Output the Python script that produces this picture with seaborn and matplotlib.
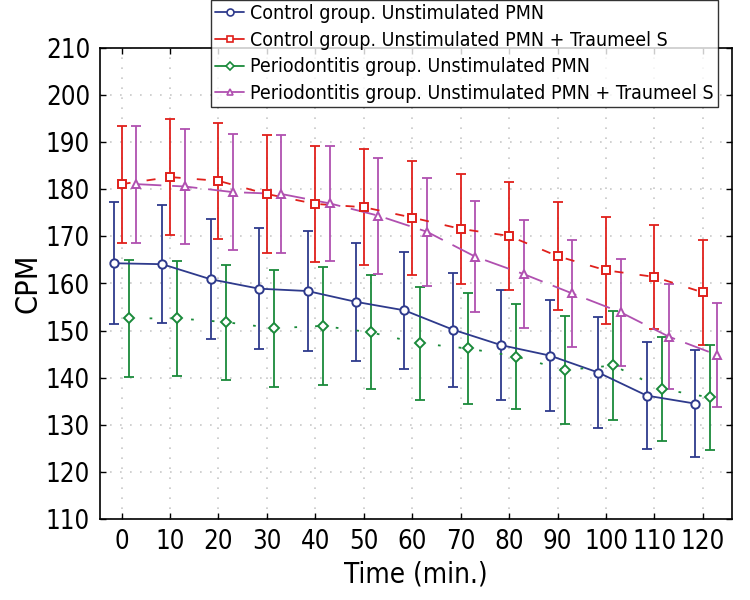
import numpy as np
import pandas as pd
import matplotlib
matplotlib.use("Agg")
import matplotlib.pyplot as plt
import seaborn as sns

# time points (min.)
time = [0, 10, 20, 30, 40, 50, 60, 70, 80, 90, 100, 110, 120]

# mean CPM
ctrl = [164.3, 164.1, 160.9, 158.9, 158.4, 156.1, 154.3, 150.2, 146.9, 144.7, 141.1, 136.2, 134.5]
ctrl_tr = [181.1, 182.6, 181.8, 179.0, 176.9, 176.2, 174.0, 171.6, 170.1, 165.8, 162.8, 161.4, 158.1]
perio = [152.6, 152.6, 151.8, 150.5, 151.0, 149.6, 147.3, 146.2, 144.5, 141.6, 142.6, 137.6, 135.8]
perio_tr = [181.1, 180.6, 179.4, 179.0, 177.0, 174.4, 171.0, 165.7, 162.0, 157.9, 153.9, 148.7, 144.8]

# error bar half-lengths
ctrl_err = [12.9, 12.5, 12.7, 12.9, 12.8, 12.6, 12.4, 12.1, 11.7, 11.7, 11.8, 11.4, 11.3]
ctrl_tr_err = [12.4, 12.3, 12.3, 12.5, 12.3, 12.3, 12.1, 11.7, 11.4, 11.4, 11.4, 11.0, 11.1]
perio_err = [12.4, 12.2, 12.2, 12.4, 12.5, 12.1, 12.0, 11.8, 11.2, 11.4, 11.5, 11.0, 11.1]
perio_tr_err = [12.4, 12.3, 12.3, 12.5, 12.2, 12.3, 11.5, 11.8, 11.4, 11.4, 11.4, 11.1, 11.1]

labels = ["Control group. Unstimulated PMN",
          "Control group. Unstimulated PMN + Traumeel S",
          "Periodontitis group. Unstimulated PMN",
          "Periodontitis group. Unstimulated PMN + Traumeel S"]

sns.set_style("ticks")
plt.rcParams['font.family'] = ['DejaVu Sans']
plt.rcParams['font.stretch'] = 'condensed'
for k in ['text.color', 'axes.labelcolor', 'xtick.color', 'ytick.color']:
    plt.rcParams[k] = 'black'

fig = plt.figure(figsize=(7.5, 6), dpi=100)
ax = fig.add_axes([0.133, 0.135, 0.843, 0.785])

series = [
    (ctrl, ctrl_err, "#2e3a8c", "o", "-", -1.6),
    (ctrl_tr, ctrl_tr_err, "#e0201b", "s", (0, (5, 9)), 0.0),
    (perio, perio_err, "#1a8a3a", "D", (0, (1.5, 10)), 1.5),
    (perio_tr, perio_tr_err, "#b050b0", "^", (0, (14, 6)), 3.0),
]

handles = []
for (vals, err, col, mk, ls, off), lab in zip(series, labels):
    x = np.array(time) + off
    df = pd.DataFrame({"t": x, "cpm": vals})
    ax.errorbar(x, vals, yerr=err, fmt="none", ecolor=col, elinewidth=1.3,
                capsize=3.5, capthick=1.3, zorder=2)
    sns.lineplot(data=df, x="t", y="cpm", ax=ax, color=col, linewidth=1.3,
                 linestyle=ls, zorder=3)
    ax.plot(x, vals, linestyle="none", marker=mk, markersize=6 if mk != "D" else 5,
            markerfacecolor="white", markeredgecolor=col, markeredgewidth=1.4, zorder=4)
    handles.append(plt.Line2D([], [], color=col, linewidth=1.3, marker=mk,
                              markersize=5 if mk != "D" else 4, markerfacecolor="white",
                              markeredgecolor=col, markeredgewidth=1.2))

ax.set_xlim(-4.5, 126)
ax.set_ylim(110, 210)
ax.set_xticks(time)
ax.set_yticks(range(110, 211, 10))
ax.grid(True, color="#c8c8c8", linestyle=(0, (1, 5)), linewidth=1.2)
ax.tick_params(axis="both", direction="in", length=4, width=1, labelsize=18.5,
               top=True, right=True, pad=7)
for s in ax.spines.values():
    s.set_color("black")
    s.set_linewidth(1.2)
ax.set_xlabel("Time (min.)", fontsize=20, labelpad=4)
ax.set_ylabel("CPM", fontsize=22, labelpad=2)

leg = fig.legend(handles, labels, loc="upper right", bbox_to_anchor=(0.957, 1.0),
                 fontsize=14, frameon=True, fancybox=False, edgecolor="black",
                 handlelength=1.5, handletextpad=0.3, borderpad=0.2, labelspacing=0.4,
                 borderaxespad=0)
leg.get_frame().set_linewidth(1.0)
leg.set_zorder(10)

fig.savefig("out.png", dpi=100)
